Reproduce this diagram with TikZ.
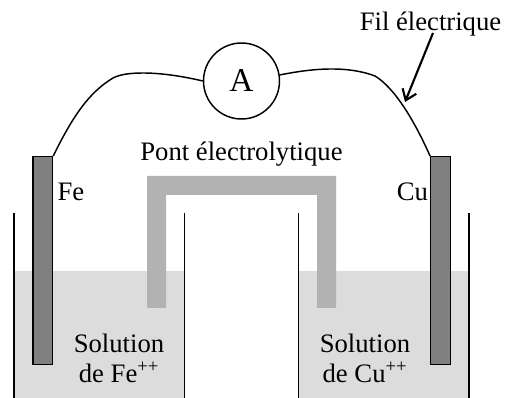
\documentclass[tikz,border=0pt]{standalone}
\usepackage{fontspec}
\setmainfont{Liberation Serif}
\usetikzlibrary{arrows.meta}
\definecolor{liquidgray}{HTML}{DCDCDC}
\definecolor{bridgegray}{HTML}{B2B2B2}
\definecolor{metalgray}{HTML}{808080}
\tikzset{
	label text/.style={inner sep=0pt, align=center, font=\fontsize{20pt}{22.5pt}\selectfont},
	electrode/.style={draw=black, line width=1pt, fill=metalgray, minimum width=19.5*0.75pt, minimum height=208*0.75pt, inner sep=0pt},
	wall/.style={black, line width=1.2pt},
	wire/.style={black, line width=1.1pt}
}

\begin{document}
\begin{tikzpicture}[x=0.75pt, y=-0.75pt]

	% page size of the reference, y runs downwards
	\useasboundingbox (0,0) rectangle (510,398);

	% liquid in both beakers
	\fill[liquidgray] (14,271) rectangle (184.5,398);
	\fill[liquidgray] (298.5,271) rectangle (469,398);

	% salt bridge
	\fill[bridgegray] (147,308) -- (147,176) -- (336,176) -- (336,308) -- (317,308) -- (317,195) -- (166,195) -- (166,308) -- cycle;

	% beaker walls
	\draw[wall] (14,213) -- (14,398);
	\draw[wall] (184.5,213) -- (184.5,398);
	\draw[wall] (298.5,213) -- (298.5,398);
	\draw[wall] (469,213) -- (469,398);

	% electrodes and ammeter
	\node[electrode] (fe) at (42.75,260.75) {};
	\node[electrode] (cu) at (440.5,260.75) {};
	\node[circle, draw=black, line width=1.1pt, minimum size=76*0.75pt, inner sep=0pt, font=\fontsize{25pt}{26pt}\selectfont] (ammeter) at (241.5,81) {A};

	% wires
	\draw[wire] (fe.north east) .. controls (72,118) and (88,93) .. (113,78) .. controls (128,70) and (165,72) .. (ammeter.west);
	\draw[wire] (ammeter.9) .. controls (305,70) and (343,64) .. (375,76) .. controls (395,88) and (415,122) .. (cu.north west);

	% labels
	\node[label text] (fil) at (430.5,24) {Fil électrique};
	\node[label text] (pont) at (241.5,154) {Pont électrolytique};
	\node[label text] (felabel) at (71,192) {Fe};
	\node[label text] (culabel) at (412.5,192) {Cu};
	\node[label text] (solfe) at (119,358) {Solution\\de Fe\textsuperscript{++}};
	\node[label text] (solcu) at (365,358) {Solution\\de Cu\textsuperscript{++}};

	% arrow to the wire
	\coordinate (wiretip) at (405,102);
	\coordinate (filstart) at (433,33);
	\draw[-{Straight Barb[length=7.5pt, width=11pt]}, black, line width=1.6pt] (filstart) -- (wiretip);

\end{tikzpicture}
\end{document}
